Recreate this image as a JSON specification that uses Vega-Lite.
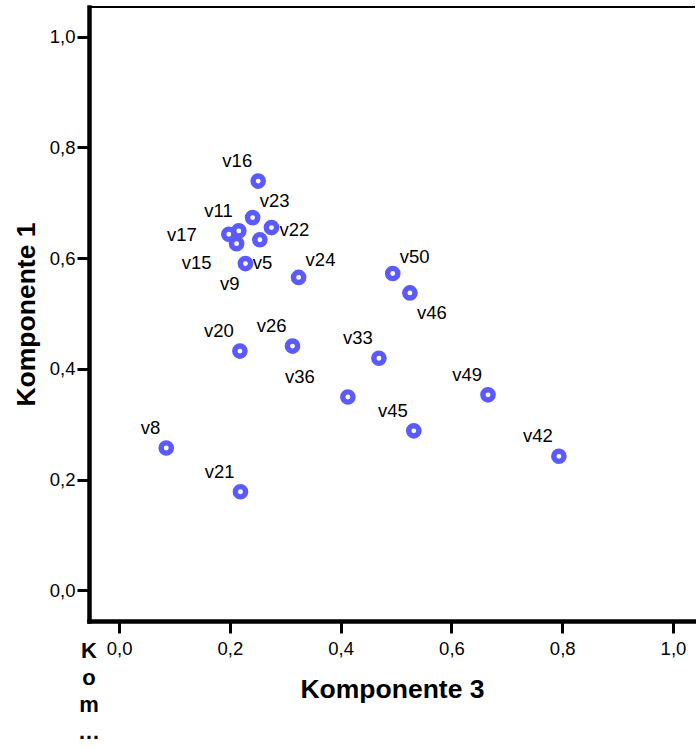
{
  "$schema": "https://vega.github.io/schema/vega-lite/v6.json",
  "autosize": {"type": "none"},
  "padding": {"left": 89, "top": 7, "right": 1, "bottom": 128},
  "width": 606,
  "height": 614,
  "background": "white",
  "config": {
    "view": {"stroke": null},
    "font": "Liberation Sans",
    "axis": {
      "grid": false,
      "domainColor": "black",
      "domainWidth": 4.5,
      "domainCap": "square",
      "tickColor": "black",
      "tickWidth": 3,
      "tickSize": 12,
      "labelFont": "Liberation Sans",
      "labelFontSize": 18.5,
      "labelColor": "black",
      "titleFont": "Liberation Sans",
      "titleFontSize": 26.5,
      "titleFontWeight": "bold",
      "titleColor": "black"
    }
  },
  "title": {
    "text": ["K", "o", "m", "…"],
    "orient": "bottom",
    "anchor": "start",
    "align": "center",
    "frame": "group",
    "baseline": "top",
    "offset": -62,
    "font": "Liberation Sans",
    "fontSize": 22,
    "fontWeight": "bold",
    "lineHeight": 27,
    "color": "black"
  },
  "data": {
    "values": [
      {"name": "v16", "c3": 0.251, "c1": 0.739, "pos": "nw"},
      {"name": "v23", "c3": 0.241, "c1": 0.673, "pos": "ne"},
      {"name": "v11", "c3": 0.216, "c1": 0.649, "pos": "nw"},
      {"name": "v17", "c3": 0.198, "c1": 0.643, "pos": "w"},
      {"name": "v15", "c3": 0.212, "c1": 0.626, "pos": "wsw"},
      {"name": "v22", "c3": 0.275, "c1": 0.655, "pos": "e"},
      {"name": "v5", "c3": 0.254, "c1": 0.633, "pos": "s"},
      {"name": "v9", "c3": 0.228, "c1": 0.590, "pos": "sw"},
      {"name": "v24", "c3": 0.324, "c1": 0.565, "pos": "ne"},
      {"name": "v50", "c3": 0.494, "c1": 0.572, "pos": "ne"},
      {"name": "v46", "c3": 0.525, "c1": 0.537, "pos": "se"},
      {"name": "v33", "c3": 0.469, "c1": 0.419, "pos": "nw"},
      {"name": "v49", "c3": 0.666, "c1": 0.353, "pos": "nw"},
      {"name": "v45", "c3": 0.532, "c1": 0.288, "pos": "nw"},
      {"name": "v42", "c3": 0.794, "c1": 0.242, "pos": "nw"},
      {"name": "v8", "c3": 0.085, "c1": 0.257, "pos": "nw"},
      {"name": "v21", "c3": 0.219, "c1": 0.178, "pos": "nw"},
      {"name": "v20", "c3": 0.218, "c1": 0.432, "pos": "nw"},
      {"name": "v26", "c3": 0.313, "c1": 0.441, "pos": "nw"},
      {"name": "v36", "c3": 0.413, "c1": 0.349, "pos": "wnw"}
    ]
  },
  "encoding": {
    "x": {
      "field": "c3", "type": "quantitative",
      "scale": {"domain": [-0.0545, 1.0398], "nice": false, "zero": false},
      "axis": {
        "title": "Komponente 3",
        "values": [0, 0.2, 0.4, 0.6, 0.8, 1.0],
        "labelExpr": "replace(format(datum.value, '.1f'), '.', ',')",
        "labelPadding": 6,
        "titlePadding": 19
      }
    },
    "y": {
      "field": "c1", "type": "quantitative",
      "scale": {"domain": [-0.0554, 1.0533], "nice": false, "zero": false},
      "axis": {
        "title": "Komponente 1",
        "values": [0, 0.2, 0.4, 0.6, 0.8, 1.0],
        "labelExpr": "replace(format(datum.value, '.1f'), '.', ',')",
        "labelPadding": 2,
        "titlePadding": 9
      }
    }
  },
  "layer": [
    {
      "mark": {"type": "rule", "color": "black", "strokeWidth": 2},
      "encoding": {"y": {"datum": 1.0533}, "x": null}
    },
    {
      "mark": {"type": "point", "filled": false, "size": 105, "strokeWidth": 5.4, "color": "#5a5aff", "opacity": 1}
    },
    {
      "transform": [{"filter": "datum.pos == 'nw'"}],
      "mark": {"type": "text", "align": "right", "baseline": "alphabetic", "dx": -6, "dy": -14, "fontSize": 18.5, "color": "black"},
      "encoding": {"text": {"field": "name"}}
    },
    {
      "transform": [{"filter": "datum.pos == 'ne'"}],
      "mark": {"type": "text", "align": "left", "baseline": "alphabetic", "dx": 7, "dy": -11, "fontSize": 18.5, "color": "black"},
      "encoding": {"text": {"field": "name"}}
    },
    {
      "transform": [{"filter": "datum.pos == 'e'"}],
      "mark": {"type": "text", "align": "left", "baseline": "alphabetic", "dx": 8, "dy": 8, "fontSize": 18.5, "color": "black"},
      "encoding": {"text": {"field": "name"}}
    },
    {
      "transform": [{"filter": "datum.pos == 's'"}],
      "mark": {"type": "text", "align": "left", "baseline": "alphabetic", "dx": -7, "dy": 29, "fontSize": 18.5, "color": "black"},
      "encoding": {"text": {"field": "name"}}
    },
    {
      "transform": [{"filter": "datum.pos == 'se'"}],
      "mark": {"type": "text", "align": "left", "baseline": "alphabetic", "dx": 7, "dy": 26, "fontSize": 18.5, "color": "black"},
      "encoding": {"text": {"field": "name"}}
    },
    {
      "transform": [{"filter": "datum.pos == 'sw'"}],
      "mark": {"type": "text", "align": "right", "baseline": "alphabetic", "dx": -6, "dy": 26, "fontSize": 18.5, "color": "black"},
      "encoding": {"text": {"field": "name"}}
    },
    {
      "transform": [{"filter": "datum.pos == 'w'"}],
      "mark": {"type": "text", "align": "right", "baseline": "alphabetic", "dx": -32, "dy": 7, "fontSize": 18.5, "color": "black"},
      "encoding": {"text": {"field": "name"}}
    },
    {
      "transform": [{"filter": "datum.pos == 'wsw'"}],
      "mark": {"type": "text", "align": "right", "baseline": "alphabetic", "dx": -25, "dy": 25, "fontSize": 18.5, "color": "black"},
      "encoding": {"text": {"field": "name"}}
    },
    {
      "transform": [{"filter": "datum.pos == 'wnw'"}],
      "mark": {"type": "text", "align": "right", "baseline": "alphabetic", "dx": -33, "dy": -14, "fontSize": 18.5, "color": "black"},
      "encoding": {"text": {"field": "name"}}
    }
  ]
}
